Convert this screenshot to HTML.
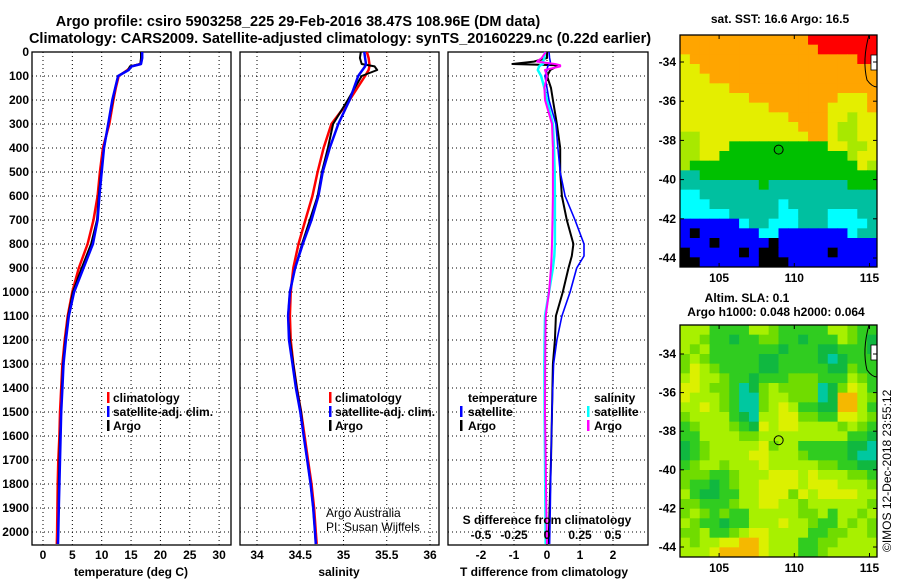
<!DOCTYPE html>
<html><head><meta charset="utf-8">
<style>
html,body{margin:0;padding:0;background:#fff;}
svg{display:block;font-family:"Liberation Sans",sans-serif;}
.b{font-weight:bold;font-size:12px;}
.n{font-weight:normal;font-size:12px;}
.t{font-weight:bold;font-size:14.5px;}
</style></head>
<body>
<svg id="fig" width="900" height="580" viewBox="0 0 900 580" xmlns="http://www.w3.org/2000/svg">
<rect width="900" height="580" fill="#fff"/>
<text class="t" x="298" y="26" text-anchor="middle">Argo profile: csiro 5903258_225 29-Feb-2016 38.47S 108.96E (DM data)</text>
<text class="t" x="340" y="43" text-anchor="middle">Climatology: CARS2009. Satellite-adjusted climatology: synTS_20160229.nc (0.22d earlier)</text>
<g id="p1"></g>
<g id="p2"></g>
<g id="p3"></g>
<g id="m1"></g>
<g id="m2"></g>
<text x="891" y="552" font-size="12" transform="rotate(-90 891 552)">©IMOS 12-Dec-2018 23:55:12</text>
</svg>
<script>
// ---- data ----
const depths = [0,25,50,60,75,100,150,200,300,400,500,600,700,800,900,1000,1100,1200,1300,1400,1500,1600,1700,1800,1900,2000,2050];
const tempArgo = [16.7,16.7,16.6,14.8,14.5,12.8,12.3,11.9,11.1,10.4,9.9,9.5,9.2,8.2,6.6,5.1,4.3,3.8,3.4,3.2,3.1,2.9,2.8,2.7,2.65,2.6,2.5];
const tempClim = [16.8,16.8,16.6,15.0,14.4,12.9,12.4,12.0,11.3,10.2,9.7,9.3,8.6,7.6,6.1,5.0,4.2,3.7,3.3,3.1,2.9,2.8,2.6,2.5,2.45,2.4,2.35];
const tempSat = [16.9,16.9,16.7,15.1,14.6,12.8,12.3,11.8,11.1,10.4,10.0,9.6,9.3,8.5,6.9,5.3,4.4,3.9,3.5,3.3,3.1,3.0,2.9,2.8,2.7,2.6,2.55];
const salArgo = [35.2,35.19,35.21,35.36,35.39,35.21,35.13,35.05,34.88,34.82,34.75,34.70,34.61,34.52,34.44,34.38,34.36,34.38,34.42,34.46,34.51,34.54,34.58,34.62,34.65,34.67,34.68];
const salClim = [35.27,35.29,35.3,35.3,35.29,35.25,35.16,35.07,34.86,34.77,34.7,34.64,34.56,34.48,34.42,34.39,34.38,34.39,34.42,34.46,34.51,34.55,34.59,34.63,34.66,34.68,34.69];
const salSat = [35.24,35.25,35.26,35.25,35.22,35.17,35.12,35.07,34.94,34.84,34.76,34.71,34.63,34.53,34.44,34.38,34.36,34.37,34.41,34.45,34.5,34.54,34.58,34.62,34.65,34.67,34.68];
const diffDepths = [0,25,40,50,55,60,75,100,150,200,300,400,500,600,700,800,850,900,1000,1100,1200,1300,1500,1700,1900,2050];
const tDiffArgo = [0,0,-0.4,-1.05,0.3,0.3,0.1,0,0.12,0.18,0.3,0.4,0.4,0.45,0.6,0.8,0.75,0.65,0.48,0.27,0.24,0.18,0.15,0.12,0.08,0.05];
const tDiffSat = [0.06,0.08,0.1,0.1,0.05,0.02,0,-0.06,0,0.06,0.27,0.33,0.4,0.55,0.85,1.12,1.12,0.9,0.7,0.45,0.3,0.2,0.15,0.12,0.1,0.08];
const sDiffSat = [-0.015,-0.02,-0.03,-0.03,-0.05,-0.06,-0.07,-0.045,-0.02,0,0.045,0.053,0.058,0.06,0.06,0.06,0.055,0.045,0.015,-0.015,-0.018,-0.02,-0.018,-0.015,-0.012,-0.01];
const sDiffArgo = [-0.01,-0.04,-0.075,0.06,0.1,0.1,-0.015,0,-0.02,-0.015,0.038,0.045,0.045,0.045,0.042,0.038,0.035,0.03,0.015,-0.01,-0.012,-0.014,-0.015,-0.01,-0.005,0];
const depthTicks = [0,100,200,300,400,500,600,700,800,900,1000,1100,1200,1300,1400,1500,1600,1700,1800,1900,2000];
const tempTicks = [0,5,10,15,20,25,30];
const salTicks = [34,34.5,35,35.5,36];
const salTickLabels = ["34","34.5","35","35.5","36"];
const tDiffTicks = [-2,-1,0,1,2];
const sDiffTicks = [-0.5,-0.25,0,0.25,0.5];
const sDiffTickLabels = ["-0.5","-0.25","0","0.25","0.5"];
const lonTicks = [105,110,115];
const latTicks = [-34,-36,-38,-40,-42,-44];
const floatLon = 108.96, floatLat = -38.47;
const sstColors = {R:"#ff0000",O:"#ffa500",Y:"#e4ee00",L:"#a8e800",G:"#00c000",T:"#00c0a0",C:"#00ffff",B:"#0000ff",K:"#000000"};
const sstGrid = [
"OOOOOOOOOOOOORRRRRRR","OOOOOOOOOOOOOORRRRRR","YOOOOOOOOOOOOOOOOORR","YYOOOOOOOOOOOOOOOOOO",
"YYYOOOOOOOOOOOOOOOOO","YYYYYOOOOOOOOOOOOOOO","YYYYYYYOOOOOOOOOYYYO","YYYYYYYYYOOOOOOYYYYO",
"YYYYYYYYYYYOOOOYYLYY","YYYYYYYYYYYYOOOYLLYY","LLYYYYYYYYYYYOOYLLYY","LLYYYGGGGGGGGGGYYLLY",
"LLYYGGGGGGGGGGGGGLYY","LGGGGGGGGGGGGGGGGGYL","TTGGGGGGGGGGGGGGGGGG","TTTTTTTTGTTTTTTTTGGG",
"CCTTTTTTTTTTTTTTTTTT","CCCTTTTTTTCTTTTTTTTT","CCCCCTTTTTCCTTTCCCTT","BBBBBBCTTCCCTTTCCCCT",
"BKBBBBBBCCBBBBBBBCTT","BBBKBBBBBKBBBBBBBBBB","KBBBBBKBKKBBBBBKBBBB","KKBBBBBBKKKBBBBBBBBB"];
const slaColors = ["#00c8a0","#10b840","#30cc20","#70dc00","#a8f000","#dcf000","#f5b800","#ffa000"];
const slaGrid = [
"44422224432222244322","44322122332212224321","43422222221222112221","34322222112222101222",
"35432222112222211322","45443221222333222432","55433201343333013542","54443200344333016643",
"44543200345422116642","34444210445533225543","23444321545544443432","22444433444444444221",
"12344444534422222110","12344445544432222100","23443444544444332211","33322344455545444332",
"32212344555545554443","42112244555354555544","33222344554434444443","34323224444433424434",
"43221224445443224343","33422345544442233443","43445566544422334444","44456666544422344444"];

const NS="http://www.w3.org/2000/svg";
function el(parent,tag,attrs,text){const e=document.createElementNS(NS,tag);for(const k in attrs)e.setAttribute(k,attrs[k]);if(text!==undefined)e.textContent=text;parent.appendChild(e);return e;}
const Y0=52, PXD=0.24, YB=545;
const yOf = d => Y0 + d*PXD;

function panel(g,left,right,xs,xTicks,name){
  for(const t of xTicks){const x=xs(t);
    const l=el(g,"line",{x1:x,x2:x,y1:Y0,y2:YB,stroke:"#000","stroke-dasharray":"1,3"});
    
    }
  for(const d of depthTicks){ if(d===0)continue; const y=yOf(d);
    const l=el(g,"line",{x1:left,x2:right,y1:y,y2:y,stroke:"#000","stroke-dasharray":"1,3"});
    
    }
  const r=el(g,"rect",{x:left,y:Y0,width:right-left,height:YB-Y0,fill:"none",stroke:"#000","stroke-width":1.3});
  
  
}
function line(g,xs,vals,ds,color,w,name){
  const pts=vals.map((v,i)=>xs(v).toFixed(1)+","+yOf(ds[i]).toFixed(1)).join(" ");
  const p=el(g,"polyline",{points:pts,fill:"none",stroke:color,"stroke-width":w,"stroke-linejoin":"round"});
  
  
}
function txt(g,x,y,s,cls,anchor,name,color){
  const t=el(g,"text",{x:x,y:y,class:cls||"b","text-anchor":anchor||"start",fill:color||"#000"},s);
  
  
  return t;
}
function legendBar(g,x,y,color,name){
  const r=el(g,"rect",{x:x,y:y-10,width:2.5,height:11,fill:color});
  
  
}

// Panel 1: temperature
const p1=document.getElementById("p1");
const xT = t => 43 + t*5.87;
panel(p1,32,231,xT,tempTicks,"temperature");
line(p1,xT,tempClim,depths,"#ff0000",2.5,"temperature-climatology-line");
line(p1,xT,tempArgo,depths,"#000",2,"temperature-argo-line");
line(p1,xT,tempSat,depths,"#0000ff",2.5,"temperature-satellite-line");
for(const d of depthTicks) txt(p1,29,yOf(d)+4,String(d),"b","end","depth-tick-label");
for(const t of tempTicks) txt(p1,xT(t),559,String(t),"b","middle","temperature-tick-label");
txt(p1,131,576,"temperature (deg C)","b","middle","temperature-axis-title");
legendBar(p1,107,402,"#ff0000","legend-climatology-swatch");
txt(p1,113,402,"climatology","b","start","legend-climatology");
legendBar(p1,107,416,"#0000ff","legend-satellite-swatch");
txt(p1,113,416,"satellite-adj. clim.","b","start","legend-satellite");
legendBar(p1,107,430,"#000","legend-argo-swatch");
txt(p1,113,430,"Argo","b","start","legend-argo");

// Panel 2: salinity
const p2=document.getElementById("p2");
const xS = s => 257 + (s-34)*86.5;
panel(p2,240,439,xS,salTicks,"salinity");
line(p2,xS,salClim,depths,"#ff0000",2.5,"salinity-climatology-line");
line(p2,xS,salArgo,depths,"#000",2,"salinity-argo-line");
line(p2,xS,salSat,depths,"#0000ff",2.5,"salinity-satellite-line");
salTicks.forEach((t,i)=>txt(p2,xS(t),559,salTickLabels[i],"b","middle","salinity-tick-label"));
txt(p2,339,576,"salinity","b","middle","salinity-axis-title");
legendBar(p2,329,402,"#ff0000","legend-climatology-swatch");
txt(p2,335,402,"climatology","b","start","legend-climatology");
legendBar(p2,329,416,"#0000ff","legend-satellite-swatch");
txt(p2,335,416,"satellite-adj. clim.","b","start","legend-satellite");
legendBar(p2,329,430,"#000","legend-argo-swatch");
txt(p2,335,430,"Argo","b","start","legend-argo");
txt(p2,326,517,"Argo Australia","n","start","credit-argo-australia");
txt(p2,326,531,"PI: Susan Wijffels","n","start","credit-pi");

// Panel 3: differences
const p3=document.getElementById("p3");
const xTd = t => 547 + t*33;
const xSd = s => 547 + s*132;
panel(p3,448,648,xTd,tDiffTicks,"difference");
line(p3,xTd,tDiffArgo,diffDepths,"#000",2,"temperature-diff-argo-line");
line(p3,xTd,tDiffSat,diffDepths,"#0000ff",1.6,"temperature-diff-satellite-line");
line(p3,xSd,sDiffSat,diffDepths,"#00ffff",2.5,"salinity-diff-satellite-line");
line(p3,xSd,sDiffArgo,diffDepths,"#ff00ff",2,"salinity-diff-argo-line");
for(const t of tDiffTicks) txt(p3,xTd(t),559,String(t),"b","middle","t-diff-tick-label");
sDiffTicks.forEach((t,i)=>txt(p3,xSd(t),539,sDiffTickLabels[i],"b","middle","s-diff-tick-label"));
txt(p3,547,524,"S difference from climatology","b","middle","s-diff-axis-title");
txt(p3,544,576,"T difference from climatology","b","middle","t-diff-axis-title");
txt(p3,468,402,"temperature","b","start","legend-temperature-heading");
legendBar(p3,460,416,"#0000ff","legend-t-satellite-swatch");
txt(p3,468,416,"satellite","b","start","legend-t-satellite");
legendBar(p3,460,430,"#000","legend-t-argo-swatch");
txt(p3,468,430,"Argo","b","start","legend-t-argo");
txt(p3,594,402,"salinity","b","start","legend-salinity-heading");
legendBar(p3,587,416,"#00ffff","legend-s-satellite-swatch");
txt(p3,594,416,"satellite","b","start","legend-s-satellite");
legendBar(p3,587,430,"#ff00ff","legend-s-argo-swatch");
txt(p3,594,430,"Argo","b","start","legend-s-argo");

// Maps
function map(g,top,bottom,lat34y,lat44y,grid,colorOf,name){
  const L=680,R=877, lonL=102.4, lonR=115.5;
  const xL = lon => L + (lon-lonL)*(R-L)/(lonR-lonL);
  const yL = lat => lat34y + (-34-lat)*(lat44y-lat34y)/10;
  const rows=grid.length, cols=grid[0].length;
  const cw=(R-L)/cols, ch=(bottom-top)/rows;
  grid.forEach((row,ri)=>{for(let ci=0;ci<cols;ci++){
    const c=el(g,"rect",{x:(L+ci*cw).toFixed(2),y:(top+ri*ch).toFixed(2),width:(cw+0.5).toFixed(2),height:(ch+0.5).toFixed(2),fill:colorOf(row[ci])});
    
    
  }});
  const cl=el(g,"path",{d:`M${R-8},${top} Q${R-15},${top+25} ${R-10},${top+45} Q${R-5},${top+52} ${R},${top+52}`,fill:"none",stroke:"#000","stroke-width":1});
  
  
  const isl=el(g,"rect",{x:R-6,y:top+20,width:6,height:15,fill:"#fff",stroke:"#000","stroke-width":0.8});
  
  
  const fr=el(g,"rect",{x:L,y:top,width:R-L,height:bottom-top,fill:"none",stroke:"#000","stroke-width":1.3});
  
  
  const fc=el(g,"circle",{cx:xL(floatLon),cy:yL(floatLat),r:4.5,fill:"none",stroke:"#000","stroke-width":1});
  
  
  for(const lon of lonTicks){const x=xL(lon);
    el(g,"line",{x1:x,x2:x,y1:top,y2:top+4,stroke:"#000"});
    el(g,"line",{x1:x,x2:x,y1:bottom,y2:bottom-4,stroke:"#000"});
    txt(g,x,bottom+15,String(lon),"b","middle",name+"-lon-label");}
  for(const lat of latTicks){const y=yL(lat);
    el(g,"line",{x1:L,x2:L+4,y1:y,y2:y,stroke:"#000"});
    el(g,"line",{x1:R,x2:R-4,y1:y,y2:y,stroke:"#000"});
    txt(g,676,y+4,String(lat),"b","end",name+"-lat-label");}
}
const m1=document.getElementById("m1");
map(m1,35,267,62,258,sstGrid,c=>sstColors[c],"sst-map");
txt(m1,780,23,"sat. SST: 16.6 Argo: 16.5","b","middle","sst-map-title");
const m2=document.getElementById("m2");
map(m2,325,557,354,547,slaGrid,c=>slaColors[+c],"sla-map");
txt(m2,747,302,"Altim. SLA: 0.1","b","middle","sla-map-title");
txt(m2,776,316,"Argo h1000: 0.048 h2000: 0.064","b","middle","sla-map-subtitle");
</script>
</body></html>
